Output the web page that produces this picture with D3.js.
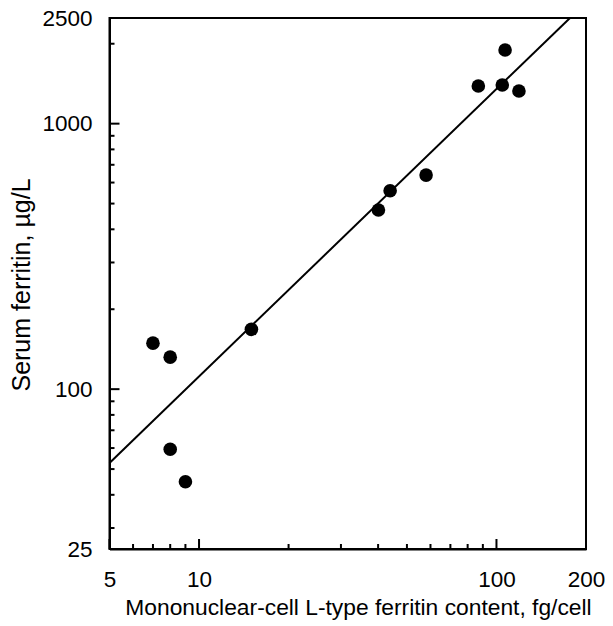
<!DOCTYPE html>
<html lang="en">
<head>
<meta charset="utf-8">
<style>
body {
  margin: 0;
  background: #fff;
  font-family: 'Liberation Sans', Arial, Helvetica, sans-serif;
}
.axis path { stroke: #000; stroke-width: 2px; }
.axis text { font-size: 22.5px; fill: #000; font-family: 'Liberation Sans', Arial, sans-serif; }
.tick-mark { stroke: #000; stroke-width: 2px; }
.frame { fill: none; stroke: #000; stroke-width: 2px; }
.fit { stroke: #000; stroke-width: 2px; fill: none; }
.dot { fill: #000; }
.title { fill: #000; }
</style>
<title>Serum ferritin vs L-type ferritin</title>
<script src="https://cdn.jsdelivr.net/npm/d3@7"></script>
</head>
<body>
<div id="chart"></div>
<script>

// measured points (fg/cell, ug/L)
var cellFerritin  = [7.0, 8.0, 8.0, 9.0, 15.0, 40.1, 43.9, 58, 86.9, 104.6, 106.9, 119];
var serumFerritin = [149, 132, 59.4, 44.8, 168, 473, 559, 640, 1386, 1398, 1894, 1327];

// regression line end points
var fitX = [5, 176.7];
var fitY = [52.7, 2500];

var xMajor = [5, 10, 100, 200];
var xMinor = [6, 7, 8, 9, 20, 30, 40, 50, 60, 70, 80, 90];
var yMajor = [25, 100, 1000, 2500];
var yMinor = [30, 40, 50, 60, 70, 80, 90, 200, 300, 400, 500, 600, 700, 800, 900, 2000];

var w = 613,
	h = 626;

// plot box (window.top is reserved, so mTop etc.)
var mLeft = 109.5, mRight = 586, mTop = 18, mBottom = 549;

var x = d3.scaleLog().domain([5, 200]).range([mLeft, mRight]);
var y = d3.scaleLog().domain([25, 2500]).range([mBottom, mTop]);

var svg = d3.select("#chart")
			.append("svg")
			.attr("width", w)
			.attr("height", h);

// frame
svg.append("rect")
	.attr("class", "frame")
	.attr("x", mLeft)
	.attr("y", mTop)
	.attr("width", mRight - mLeft)
	.attr("height", mBottom - mTop);

// labels only from the axes, tick marks drawn below
svg.append("g")
	.attr("class", "axis")
	.attr("transform", "translate(" + mLeft + ",0)")
	.call(d3.axisLeft(y).tickValues(yMajor).tickSize(0).tickPadding(17).tickFormat(d3.format("d")));

svg.append("g")
	.attr("class", "axis")
	.attr("transform", "translate(0," + mBottom + ")")
	.call(d3.axisBottom(x).tickValues(xMajor).tickSize(0).tickPadding(22).tickFormat(d3.format("d")));

// inward tick marks
var ticks = svg.append("g");

ticks.selectAll(".ymin")
	.data(yMinor)
	.enter()
	.append("line")
	.attr("class", "tick-mark")
	.attr("x1", mLeft)
	.attr("x2", mLeft + 5)
	.attr("y1", function(d){ return y(d); })
	.attr("y2", function(d){ return y(d); });

ticks.selectAll(".ymaj")
	.data(yMajor)
	.enter()
	.append("line")
	.attr("class", "tick-mark")
	.attr("x1", mLeft)
	.attr("x2", mLeft + 10)
	.attr("y1", function(d){ return y(d); })
	.attr("y2", function(d){ return y(d); });

ticks.selectAll(".xmin")
	.data(xMinor)
	.enter()
	.append("line")
	.attr("class", "tick-mark")
	.attr("x1", function(d){ return x(d); })
	.attr("x2", function(d){ return x(d); })
	.attr("y1", mBottom)
	.attr("y2", mBottom - 5);

ticks.selectAll(".xmaj")
	.data(xMajor)
	.enter()
	.append("line")
	.attr("class", "tick-mark")
	.attr("x1", function(d){ return x(d); })
	.attr("x2", function(d){ return x(d); })
	.attr("y1", mBottom)
	.attr("y2", mBottom - 10);

// fitted line
svg.append("line")
	.attr("class", "fit")
	.attr("x1", x(fitX[0]))
	.attr("y1", y(fitY[0]))
	.attr("x2", x(fitX[1]))
	.attr("y2", y(fitY[1]));

// points
svg.selectAll("circle")
	.data(cellFerritin)
	.enter()
	.append("circle")
	.attr("class", "dot")
	.attr("cx", function(d){ return x(d); })
	.attr("cy", function(d, i){ return y(serumFerritin[i]); })
	.attr("r", 6.8);

// axis titles
svg.append("text")
	.attr("class", "title")
	.attr("x", 358.5)
	.attr("y", 615)
	.style("font-size", "22.8px")
	.style("text-anchor", "middle")
	.text("Mononuclear-cell L-type ferritin content, fg/cell");

svg.append("text")
	.attr("class", "title")
	.attr("transform", "translate(30,285)rotate(-90)")
	.style("font-size", "25px")
	.style("text-anchor", "middle")
	.text("Serum ferritin, \u00b5g/L");

</script>
</body>
</html>
